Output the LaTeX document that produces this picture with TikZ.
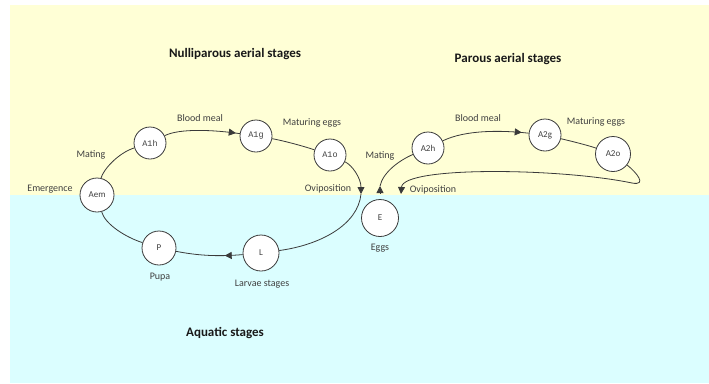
\documentclass[tikz,border=0pt]{standalone}
\usepackage{fontspec}
\setmainfont{Carlito}
\newfontfamily\codefont{Liberation Mono}
\usetikzlibrary{arrows.meta,decorations.markings}

\definecolor{airzone}{HTML}{FFFFD6}
\definecolor{waterzone}{HTML}{DBFEFF}
\definecolor{inkline}{HTML}{3A3A3A}
\definecolor{inktext}{HTML}{404040}

\tikzset{
  stage/.style={circle, draw=inkline, line width=0.8pt, fill=white,
    minimum size=32pt, inner sep=0pt, font=\fontsize{9}{10}\selectfont, text=inktext},
  codestage/.style={stage, font=\codefont\fontsize{8.5}{10}\selectfont},
  flow/.style={draw=inkline, line width=0.8pt},
  tip/.style={-{Triangle[length=7pt,width=7pt]}},
  lbl/.style={font=\fontsize{10}{12}\selectfont, text=inktext, inner sep=0pt},
  heading/.style={font=\bfseries\fontsize{13}{15}\selectfont, text=black!90, inner sep=0pt},
  midtip/.style={postaction={decorate}, decoration={markings,
    mark=at position #1 with {\arrow{Triangle[length=7pt,width=7pt]}}}}
}

\begin{document}
\begin{tikzpicture}[x=1pt, y=-1pt]
  \useasboundingbox (0,0) rectangle (709,383);
  % background zones
  \fill[airzone] (10,5) rectangle (709,195);
  \fill[waterzone] (10,195) rectangle (709,383);

  % zone headings
  \node[heading] (hnull) at (235,54) {Nulliparous aerial stages};
  \node[heading] (hpar) at (508,59) {Parous aerial stages};
  \node[heading] (haqua) at (225,333) {Aquatic stages};

  % stage circles
  \node[stage, minimum size=34pt] (Aem) at (97,195) {Aem};
  \node[codestage] (A1h) at (150,143) {A1h};
  \node[codestage] (A1g) at (256,136) {A1g};
  \node[codestage] (A1o) at (330,155) {A1o};
  \node[stage, minimum size=34pt] (P) at (159,248) {P};
  \node[stage, minimum size=36pt] (L) at (261,253) {L};
  \node[stage, minimum size=37pt] (E) at (380,218) {E};
  \node[stage] (A2h) at (428,148) {A2h};
  \node[stage] (A2g) at (545,135) {A2g};
  \node[stage, minimum size=35pt] (A2o) at (613,154) {A2o};

  % free ends of connectors
  \coordinate (ov1) at (361,194);
  \coordinate (eu) at (380,186);
  \coordinate (hk) at (632,183);
  \coordinate (ov2) at (401,194);

  % nulliparous cycle
  \draw[flow] (Aem) .. controls (103,170) and (118,153) .. (A1h);
  \draw[flow, midtip=-4pt] (A1h) .. controls (180,128) and (215,130) .. (A1g);
  \draw[flow] (A1g) .. controls (280,140) and (300,145) .. (A1o);
  \draw[flow, tip] (A1o) .. controls (352,165) and (361,178) .. (ov1);
  \draw[flow] (ov1) .. controls (358,225) and (320,245) .. (L);
  \draw[flow, midtip=18pt] (L) .. controls (215,257) and (195,255) .. (P);
  \draw[flow] (P) .. controls (125,237) and (105,224) .. (Aem);

  % parous cycle
  \draw[flow, tip, shorten <=6pt] (E) -- (eu);
  \draw[flow] (eu) .. controls (383,172) and (400,160) .. (A2h);
  \draw[flow, midtip=-7pt] (A2h) .. controls (465,130) and (500,130) .. (A2g);
  \draw[flow] (A2g) .. controls (575,142) and (590,146) .. (A2o);
  \draw[flow, tip] (A2o) .. controls (636,172) and (648,186) .. (hk)
     .. controls (560,168) and (403,166) .. (ov2);

  % event labels
  \node[lbl] (tEm) at (50,189) {Emergence};
  \node[lbl] (tMat1) at (91,155) {Mating};
  \node[lbl] (tBm1) at (200,118) {Blood meal};
  \node[lbl] (tMe1) at (312,123) {Maturing eggs};
  \node[lbl] (tOv1) at (328,189) {Oviposition};
  \node[lbl] (tMat2) at (380,156) {Mating};
  \node[lbl] (tBm2) at (478,118) {Blood meal};
  \node[lbl] (tMe2) at (596,122) {Maturing eggs};
  \node[lbl] (tOv2) at (433,190) {Oviposition};
  \node[lbl] (tPupa) at (160,277) {Pupa};
  \node[lbl] (tLarv) at (262,284) {Larvae stages};
  \node[lbl] (tEggs) at (380,248) {Eggs};
\end{tikzpicture}
\end{document}
